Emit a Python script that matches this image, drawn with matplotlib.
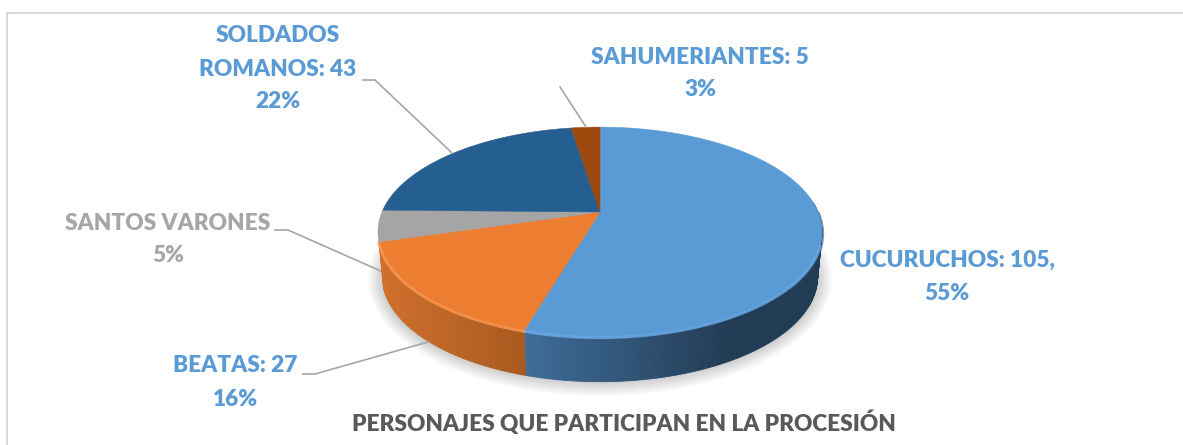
import numpy as np
import matplotlib
matplotlib.use('Agg')
import matplotlib.pyplot as plt
from matplotlib.patches import Polygon, Ellipse
from matplotlib.colors import to_rgb

categorias = ['CUCURUCHOS', 'BEATAS', 'SANTOS VARONES', 'SOLDADOS ROMANOS', 'SAHUMERIANTES']
cantidades = [105, 27, None, 43, 5]
porcentajes = [55, 16, 5, 22, 3]
# tamano de cada rebanada (las etiquetas suman 101)
cuotas = [54.6, 15.9, 4.8, 22.2, 2.5]
colores = ['#5b9bd5', '#ed7d31', '#a5a5a5', '#255e91', '#9e480e']
lado_izq = ['#3f6d99', '#d0702c']
lado_der = ['#223c55', '#a85a20']
titulo = 'PERSONAJES QUE PARTICIPAN EN LA PROCESIÓN'

# geometria del pastel en pixeles
cx, cy = 600, 212
R, b, k = 218, 101, 0.19
alto = 45

def rim(theta, dy=0, esc=1.0):
    X, Y = np.sin(theta), np.cos(theta)
    d = 1 + k * Y
    return cx + esc * R * X / d, cy - b * Y / d + dy

fig = plt.figure(figsize=(11.83, 4.45), dpi=100)
ax = fig.add_axes([0, 0, 1, 1])
ax.set_xlim(0, 1183)
ax.set_ylim(445, 0)
ax.axis('off')

# marco
ax.plot([7.5, 7.5, 1183], [445, 12.5, 12.5], color='#d9d9d9', lw=1.5)

# sombra
for i in range(16):
    ax.add_patch(Ellipse((600, 279), 2 * (232 - i * 1.5), 2 * (117 - i * 1.5),
                         color='#000000', alpha=0.02, lw=0, zorder=1))

fr = np.array(cuotas) / sum(cuotas)
bordes = np.concatenate([[0], np.cumsum(fr)]) * 2 * np.pi

# pared lateral
for i in range(2):
    ini = max(bordes[i], np.pi * 0.47)
    fin = min(bordes[i + 1], 2 * np.pi * 0.72)
    th = np.linspace(ini, fin, 120 if i == 0 else 60)
    c0, c1 = np.array(to_rgb(lado_izq[i])), np.array(to_rgb(lado_der[i]))
    xs, ys = rim(th)
    xmin, xmax = xs.min(), xs.max()
    for j in range(len(th) - 1):
        x1, y1 = rim(th[j:j + 2])
        x2, y2 = rim(th[j:j + 2], alto, 0.98)
        s = (x1.mean() - xmin) / (xmax - xmin)
        if i == 0:
            s = min(1, s * 1.45)
        col = c0 * (1 - s) + c1 * s
        ax.add_patch(Polygon(np.c_[np.r_[x1, x2[::-1]], np.r_[y1, y2[::-1]]],
                             facecolor=col, edgecolor=col, lw=0.6, zorder=2))

# cara superior
for i in range(len(fr)):
    th = np.linspace(bordes[i], bordes[i + 1], 200)
    xs, ys = rim(th)
    ax.add_patch(Polygon(np.c_[np.r_[cx, xs], np.r_[cy, ys]], facecolor=colores[i],
                         edgecolor=colores[i], lw=0.4, zorder=3))

# brillo y sombra del borde
th = np.linspace(bordes[0] + 0.6 * np.pi, bordes[1], 100)
xs, ys = rim(th, 1)
ax.plot(xs, ys, color='#6fb0ee', lw=2, alpha=0.8, zorder=4)
th = np.linspace(bordes[1], bordes[2], 100)
xs, ys = rim(th, 1)
ax.plot(xs, ys, color='#fb9a55', lw=2, alpha=0.8, zorder=4)
th = np.linspace(0.5 * np.pi, 0.72 * np.pi, 60)
xs, ys = rim(th, 2)
ax.plot(xs, ys, color='#2f5578', lw=3, alpha=0.6, zorder=2.5)

# lineas guia
gris = '#a6a6a6'
ax.plot([303, 315, 428], [374, 374, 342], color=gris, lw=1.2, zorder=5)
ax.plot([275, 288, 383], [230, 230, 272], color=gris, lw=1.2, zorder=1.5)
ax.plot([363, 375, 452], [80, 80, 153], color=gris, lw=1.2, zorder=5)
ax.plot([560, 586], [87, 127], color=gris, lw=1.2, zorder=5)

# etiquetas
azul = '#5b9bd5'
fuente = dict(family='Lato', fontweight='heavy', ha='center', va='center', fontsize=16.3)
ax.text(278, 36, 'SOLDADOS', color=azul, **fuente)
ax.text(278, 69, f'ROMANOS: {cantidades[3]}', color=azul, **fuente)
ax.text(278, 102, f'{porcentajes[3]}%', color=azul, **fuente)
ax.text(700, 58, f'{categorias[4]}: {cantidades[4]}', color=azul, **fuente)
ax.text(700, 90, f'{porcentajes[4]}%', color=azul, **fuente)
ax.text(168, 223, categorias[2], color=gris, **fuente)
ax.text(168, 255, f'{porcentajes[2]}%', color=gris, **fuente)
ax.text(947, 260, f'{categorias[0]}: {cantidades[0]},', color=azul, **fuente)
ax.text(947, 293, f'{porcentajes[0]}%', color=azul, **fuente)
ax.text(235, 366, f'{categorias[1]}: {cantidades[1]}', color=azul, **fuente)
ax.text(235, 399, f'{porcentajes[1]}%', color=azul, **fuente)
ax.text(624, 423, titulo, color='#595959', **fuente)

fig.savefig('out.png', dpi=100)
